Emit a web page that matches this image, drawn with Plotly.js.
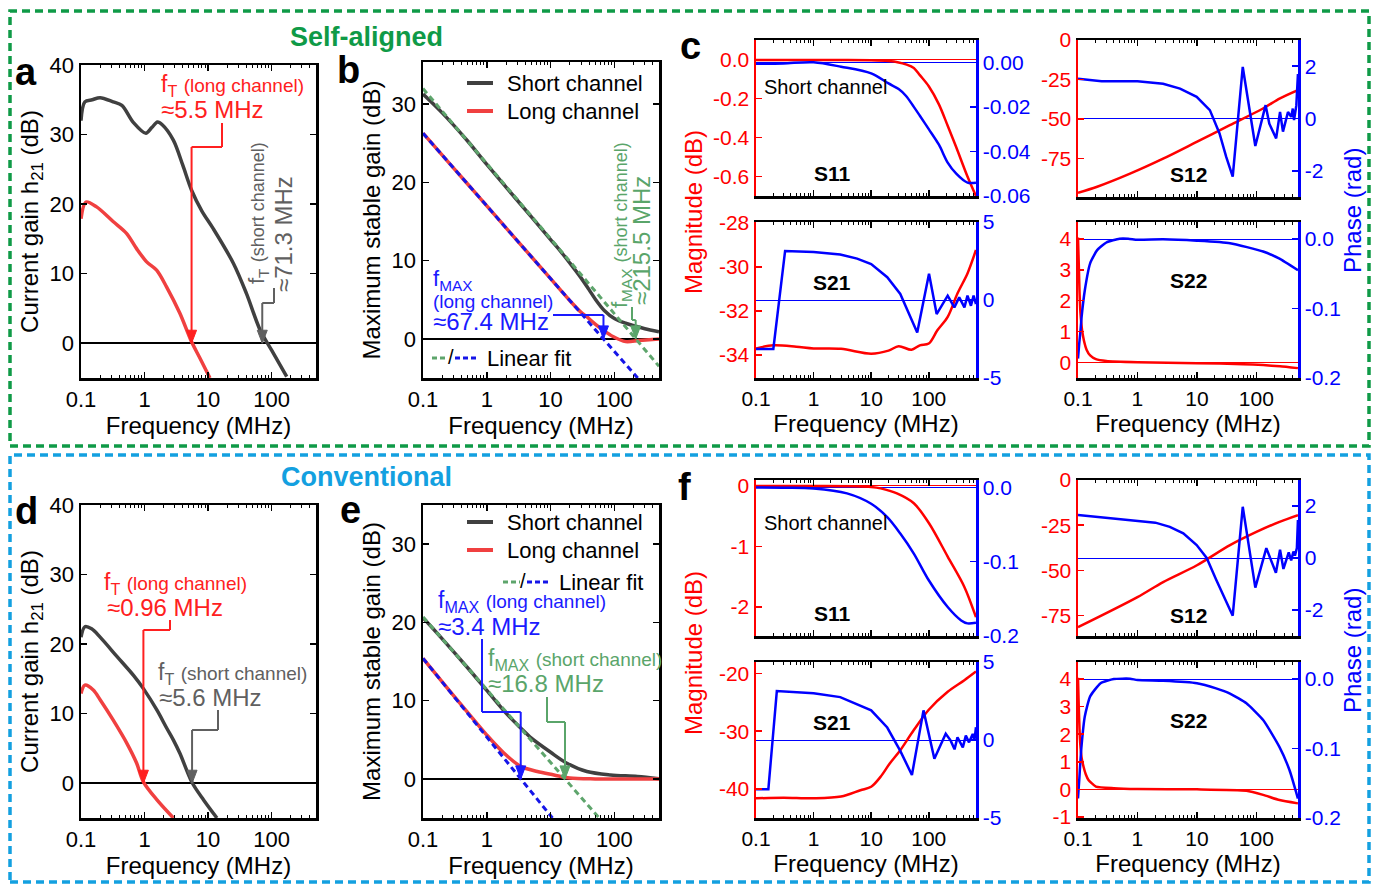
<!DOCTYPE html>
<html><head><meta charset="utf-8">
<script src="https://cdn.plot.ly/plotly-3.0.1.min.js"></script>
<style>html,body{margin:0;padding:0;background:#fff}#chart{width:1376px;height:884px}</style>
</head><body><div id="chart"></div>
<script>
// ================= DATA =================
const freqTickVals = [0.1, 1, 10, 100];
const freqTickText = ['0.1', '1', '10', '100'];
const freqMinorTicks = [0.2,0.3,0.4,0.5,0.6,0.7,0.8,0.9,2,3,4,5,6,7,8,9,20,30,40,50,60,70,80,90,200,300,400,500,600];

// Panel a: self-aligned current gain h21 (dB)
const aShortFreq = [0.1, 0.115, 0.15, 0.2, 0.32, 0.44, 0.66, 1.05, 1.3, 1.6, 1.9, 2.84, 4, 5.5, 8, 12, 25, 40, 66, 100, 173];
const aShortGain = [32, 34.7, 35.0, 35.3, 34.7, 34.2, 31.8, 30.2, 31.0, 31.8, 31.4, 29.2, 25.6, 22, 19, 16.5, 11.5, 7.2, 1.9, -1.0, -4.8];
const aLongFreq = [0.1, 0.12, 0.176, 0.32, 0.52, 0.75, 1.08, 1.55, 2.22, 3.6, 5.5, 7.5, 10.7];
const aLongGain = [17.9, 20.3, 19.6, 17.5, 15.8, 13.6, 11.7, 10.5, 8.1, 4.3, 0.2, -2.2, -5];
const aFtLong = 5.5, aFtShort = 71.3;

// Panel b: self-aligned maximum stable gain (dB)
const bShortFreq = [0.1, 0.2, 0.5, 1, 2, 5, 10, 15, 20, 30, 40, 50, 70, 100, 150, 220, 300, 500];
const bShortMSG = [31.3, 28.9, 25.3, 22.3, 19.4, 15.6, 12.7, 11.0, 9.7, 7.8, 6.3, 5.1, 3.6, 2.6, 2.0, 1.6, 1.3, 0.9];
const bLongFreq = [0.1, 0.2, 0.5, 1, 2, 5, 10, 20, 30, 36, 50, 66, 95, 150, 245, 500];
const bLongMSG = [26.3, 23.5, 19.8, 17.0, 14.2, 10.5, 7.7, 4.9, 3.4, 2.9, 1.9, 1.15, 0.3, -0.35, -0.2, 0.0];
const bFitShortFreq = [0.1, 500];
const bFitShortMSG = [32, -3.5];
const bFitLongFreq = [0.1, 232];
const bFitLongMSG = [26.3, -5];
const bFmaxLong = 67.4, bFmaxShort = 215.5;

// Panel c: self-aligned S-parameters (short channel)
const cS11Freq = [0.1, 0.3, 1, 3, 10, 20, 30, 40, 55, 70, 100, 150, 213, 300, 470, 660];
const cS11Mag = [-0.003, -0.003, -0.003, -0.003, -0.004, -0.008, -0.015, -0.025, -0.043, -0.08, -0.137, -0.23, -0.34, -0.45, -0.6, -0.70];
const cS11Phase = [-0.0007, -0.0005, 0.0, -0.002, -0.005, -0.0095, -0.012, -0.015, -0.02, -0.024, -0.030, -0.037, -0.045, -0.050, -0.054, -0.054];
const cS21Freq = [0.1, 0.2, 0.5, 1, 3, 10, 20, 30, 50, 70, 100, 141, 213, 316, 470, 660];
const cS21Mag = [-33.7, -33.56, -33.62, -33.7, -33.72, -33.94, -33.8, -33.6, -33.76, -33.56, -33.48, -32.88, -32.27, -31.2, -30.3, -29.24];
const cS21PhaseFreq = [0.1, 0.2, 0.32, 1.0, 2.9, 5.7, 10, 19, 32, 63, 101, 137, 213, 278, 338, 416, 470, 540, 600, 660];
const cS21Phase = [-3.14, -3.14, 3.14, 3.07, 2.92, 2.65, 2.3, 1.46, 0.39, -2.09, 1.68, -0.9, 0.28, -0.47, 0.17, -0.47, 0.28, -0.37, 0.28, -0.26];
const cS12Freq = [0.1, 0.21, 0.75, 2.7, 9.9, 35.8, 129, 250, 500];
const cS12Mag = [-96.8, -93, -84.7, -75.2, -64.6, -54, -43.4, -37, -31.8];
const cS12PhaseFreq = [0.1, 0.2, 0.25, 1, 2.7, 5.2, 9.9, 16.5, 24, 31, 40, 59, 96, 143, 165, 215, 250, 280, 340, 385, 410, 430, 470, 500];
const cS12Phase = [1.52, 1.45, 1.42, 1.42, 1.33, 1.14, 0.83, 0.32, -0.57, -1.46, -2.22, 1.97, -1.05, 0.51, -0.2, -0.76, 0.25, -0.5, 0.25, 0.06, 0.38, -0.06, 0.5, 1.7];
const cS22Freq = [0.1, 0.103, 0.106, 0.11, 0.117, 0.126, 0.14, 0.16, 0.2, 0.3, 1, 10, 60, 130, 250, 500];
const cS22Mag = [4.05, 3.2, 2.3, 1.6, 1.05, 0.7, 0.4, 0.22, 0.1, 0.04, 0.0, -0.03, -0.06, -0.09, -0.13, -0.19];
const cS22PhaseFreq = [0.1, 0.105, 0.109, 0.115, 0.13, 0.16, 0.21, 0.3, 0.5, 0.7, 1, 2.7, 10, 36, 130, 240, 500];
const cS22Phase = [-0.172, -0.15, -0.136, -0.112, -0.074, -0.035, -0.016, -0.005, 0.0005, 0.0005, -0.001, -0.0005, -0.0025, -0.006, -0.018, -0.028, -0.045];

// Panel d: conventional current gain h21 (dB)
const dShortFreq = [0.1, 0.115, 0.147, 0.2, 0.37, 0.67, 0.96, 1.57, 2.24, 2.85, 3.6, 5.6, 8.5, 13.8];
const dShortGain = [21, 22.5, 22.2, 21, 18.2, 15.5, 13.6, 10.5, 7.9, 6.2, 4.3, 0.1, -2.4, -5];
const dLongFreq = [0.1, 0.115, 0.156, 0.2, 0.32, 0.53, 0.75, 0.96, 1.57, 2.85];
const dLongGain = [12.9, 14.1, 13.4, 12.0, 9.1, 5.7, 2.9, 0.2, -2.4, -5];
const dFtLong = 0.96, dFtShort = 5.6;

// Panel e: conventional maximum stable gain (dB)
const eShortFreq = [0.1, 0.2, 0.5, 1, 2, 3.4, 5, 10, 18, 37, 87, 230, 500];
const eShortMSG = [20.6, 17.9, 14.2, 11.3, 8.4, 6.5, 5.2, 3.4, 2.0, 0.94, 0.5, 0.3, 0.0];
const eLongFreq = [0.1, 0.2, 0.5, 1, 1.85, 3.4, 6.2, 11.3, 20, 50, 100, 500];
const eLongMSG = [15.4, 12.4, 8.5, 5.6, 3.3, 1.6, 0.94, 0.5, 0.1, 0.0, 0.0, 0.0];
const eFitShortFreq = [0.1, 57.8];
const eFitShortMSG = [20.7, -5];
const eFitLongFreq = [0.1, 10.7];
const eFitLongMSG = [15.4, -5];
const eFmaxLong = 3.4, eFmaxShort = 16.8;

// Panel f: conventional S-parameters (short channel)
const fS11Freq = [0.1, 1, 5, 10, 14.6, 28, 55, 101, 213, 415, 660];
const fS11Mag = [-0.005, -0.005, -0.008, -0.02, -0.044, -0.127, -0.29, -0.62, -1.17, -1.67, -2.17];
const fS11PhaseFreq = [0.1, 0.3, 1, 3.8, 10, 19, 32, 55, 100, 213, 365, 470, 660];
const fS11Phase = [0.0, -0.0005, -0.0014, -0.008, -0.022, -0.04, -0.062, -0.089, -0.125, -0.161, -0.179, -0.183, -0.182];
const fS21Freq = [0.1, 0.3, 1, 3, 6.5, 10, 14.5, 21, 32, 55, 100, 213, 415, 660];
const fS21Mag = [-41.6, -41.5, -41.6, -41.3, -40.2, -39.6, -37.9, -35.6, -33.3, -29.8, -26.3, -23.2, -21.2, -19.7];
const fS21PhaseFreq = [0.1, 0.164, 0.23, 1, 2.9, 5.7, 10, 19, 32, 51, 81, 125, 197, 240, 280, 315, 390, 440, 500, 580, 620, 660];
const fS21Phase = [-3.15, -3.15, 3.14, 3.0, 2.75, 2.3, 1.9, 0.8, -0.7, -2.24, 1.9, -1.2, 0.4, -0.04, -0.6, 0.17, -0.47, 0.28, -0.15, 0.39, -0.04, 0.82];
const fS12Freq = [0.1, 1, 2.7, 10, 36, 100, 245, 500];
const fS12Mag = [-81.3, -64.7, -56.4, -47.1, -36, -28.7, -23.1, -19.4];
const fS12PhaseFreq = [0.1, 0.4, 1, 2, 3.5, 5.9, 9.9, 14.6, 21, 31, 40, 59, 96, 147, 172, 213, 250, 285, 350, 385, 420, 445, 480, 500];
const fS12Phase = [1.65, 1.52, 1.43, 1.36, 1.2, 0.95, 0.5, 0.0, -0.83, -1.71, -2.22, 1.97, -1.14, 0.38, -0.04, -0.57, 0.32, -0.42, 0.22, -0.09, 0.25, 0.09, 0.38, 1.46];
const fS22Freq = [0.1, 0.103, 0.106, 0.109, 0.115, 0.124, 0.135, 0.15, 0.2, 0.4, 1, 10, 68, 130, 245, 500];
const fS22Mag = [4.05, 3.0, 2.2, 1.67, 1.15, 0.82, 0.55, 0.34, 0.1, 0.04, 0.01, 0.0, -0.05, -0.2, -0.39, -0.51];
const fS22PhaseFreq = [0.1, 0.105, 0.109, 0.115, 0.13, 0.16, 0.24, 0.4, 0.75, 1, 2.7, 10, 21, 36, 68, 130, 245, 360, 500];
const fS22Phase = [-0.172, -0.145, -0.122, -0.095, -0.054, -0.025, -0.006, 0.0, 0.0005, -0.0015, -0.0025, -0.006, -0.0135, -0.021, -0.035, -0.059, -0.098, -0.131, -0.172];

// ================= STYLE / GEOMETRY =================
const W = 1376, H = 884;
const FONT = 'Liberation Sans, Arial, Helvetica, sans-serif';
const DARK = '#404040', LRED = '#f04040', GFIT = '#5ea56c', BFIT = '#1515e8';
const ARED = '#ff2020', AGREY = '#606060', ABLUE = '#1a1aff', AGREEN = '#5aa56a';
const SRED = '#ff0000', SBLUE = '#0000ff';
const GREENF = '#0f9a47', BLUEF = '#13a0e0';

const P = {
  a: {x0: 81, x1: 316, y0: 65, y1: 378, xr: [-1, 2.699], yr: [-5, 40]},
  b: {x0: 423, x1: 659, y0: 62, y1: 378, xr: [-1, 2.699], yr: [-5, 35.4]},
  d: {x0: 81, x1: 316, y0: 505, y1: 818, xr: [-1, 2.699], yr: [-5, 40]},
  e: {x0: 423, x1: 659, y0: 505, y1: 818, xr: [-1, 2.699], yr: [-5, 35]},
  c11: {x0: 756, x1: 976, y0: 40, y1: 196, xr: [-1, 2.82]},
  c21: {x0: 756, x1: 976, y0: 222, y1: 378, xr: [-1, 2.82]},
  c12: {x0: 1078, x1: 1298, y0: 40, y1: 197, xr: [-1, 2.7]},
  c22: {x0: 1078, x1: 1298, y0: 222, y1: 378, xr: [-1, 2.7]},
  f11: {x0: 756, x1: 976, y0: 480, y1: 636, xr: [-1, 2.82]},
  f21: {x0: 756, x1: 976, y0: 662, y1: 818, xr: [-1, 2.82]},
  f12: {x0: 1078, x1: 1298, y0: 480, y1: 636, xr: [-1, 2.7]},
  f22: {x0: 1078, x1: 1298, y0: 662, y1: 818, xr: [-1, 2.7]}
};
const xd = p => [p.x0 / W, p.x1 / W];
const yd = p => [1 - p.y1 / H, 1 - p.y0 / H];
const X = (p, px) => Math.pow(10, p.xr[0] + (px - p.x0) / (p.x1 - p.x0) * (p.xr[1] - p.xr[0]));
const Y = (p, py) => p.yr[1] - (py - p.y0) / (p.y1 - p.y0) * (p.yr[1] - p.yr[0]);

function freqAxis(p, anchor, showLabels, fs, withTitle) {
  const ax = {
    domain: xd(p), anchor: anchor, type: 'log', range: p.xr,
    tickmode: 'array', tickvals: freqTickVals, ticktext: freqTickText,
    showticklabels: showLabels, ticks: 'inside', ticklen: 6, tickwidth: 1.5, tickcolor: '#000',
    showline: true, linecolor: '#000', linewidth: 2.5, mirror: 'ticks',
    showgrid: false, zeroline: false,
    tickfont: {family: FONT, size: fs, color: '#000'},
    minor: {tickmode: 'array', tickvals: freqMinorTicks, ticks: 'inside', ticklen: 3, tickwidth: 1, tickcolor: '#000', showgrid: false}
  };
  if (withTitle) ax.title = {text: 'Frequency (MHz)', font: {family: FONT, size: 24, color: '#000'}, standoff: 4};
  return ax;
}
function gainAxis(p, anchor, tv, title) {
  return {
    domain: yd(p), anchor: anchor, range: p.yr, tickmode: 'array', tickvals: tv,
    ticks: 'inside', ticklen: 6, tickwidth: 1.5, tickcolor: '#000',
    showline: true, linecolor: '#000', linewidth: 2.5, mirror: 'ticks',
    showgrid: false, zeroline: true, zerolinecolor: '#000', zerolinewidth: 2,
    tickfont: {family: FONT, size: 22, color: '#000'},
    title: {text: title, font: {family: FONT, size: 24, color: '#000'}, standoff: 4}
  };
}
function sAxis(p, anchor, side, range, tv, tt, color, zl, overlay) {
  const ax = {
    domain: yd(p), anchor: anchor, side: side, range: range,
    tickmode: 'array', tickvals: tv, ticktext: tt,
    ticks: 'inside', ticklen: 6, tickwidth: 1.5, tickcolor: color,
    showline: true, linecolor: color, linewidth: 2.5,
    showgrid: false, zeroline: zl, zerolinecolor: color, zerolinewidth: 1,
    tickfont: {family: FONT, size: 21, color: color}
  };
  if (overlay) ax.overlaying = overlay;
  return ax;
}

// ================= TRACES =================
function tr(x, y, xa, ya, color, width, opt) {
  opt = opt || {};
  const line = {color: color, width: width, dash: opt.dash || 'solid'};
  if (opt.smooth) { line.shape = 'spline'; line.smoothing = opt.smooth; }
  return {x: x, y: y, xaxis: xa, yaxis: ya, type: 'scatter', mode: 'lines',
    line: line, showlegend: false, hoverinfo: 'skip'};
}
const SM = {smooth: 0.9};
const SM5 = {smooth: 0.5};
const DASH = {dash: '6px,4px'};
const data = [
  tr(aShortFreq, aShortGain, 'x', 'y', DARK, 3.5, SM),
  tr(aLongFreq, aLongGain, 'x', 'y', LRED, 3.5, SM),
  tr(bShortFreq, bShortMSG, 'x2', 'y2', DARK, 3.5, SM),
  tr(bLongFreq, bLongMSG, 'x2', 'y2', LRED, 3.5, SM),
  tr(bFitShortFreq, bFitShortMSG, 'x2', 'y2', GFIT, 3, DASH),
  tr(bFitLongFreq, bFitLongMSG, 'x2', 'y2', BFIT, 3, DASH),
  tr(cS11Freq, cS11Mag, 'x3', 'y3', SRED, 2.5, SM),
  tr(cS11Freq, cS11Phase, 'x3', 'y4', SBLUE, 2.5, SM),
  tr(cS21Freq, cS21Mag, 'x4', 'y5', SRED, 2.5, SM),
  tr(cS21PhaseFreq, cS21Phase, 'x4', 'y6', SBLUE, 2.5),
  tr(cS12Freq, cS12Mag, 'x5', 'y7', SRED, 2.5, SM),
  tr(cS12PhaseFreq, cS12Phase, 'x5', 'y8', SBLUE, 2.5),
  tr(cS22Freq, cS22Mag, 'x6', 'y9', SRED, 2.5, SM5),
  tr(cS22PhaseFreq, cS22Phase, 'x6', 'y10', SBLUE, 2.5, SM5),
  tr(dShortFreq, dShortGain, 'x7', 'y11', DARK, 3.5, SM),
  tr(dLongFreq, dLongGain, 'x7', 'y11', LRED, 3.5, SM),
  tr(eShortFreq, eShortMSG, 'x8', 'y12', DARK, 3.5, SM),
  tr(eLongFreq, eLongMSG, 'x8', 'y12', LRED, 3.5, SM),
  tr(eFitShortFreq, eFitShortMSG, 'x8', 'y12', GFIT, 3, DASH),
  tr(eFitLongFreq, eFitLongMSG, 'x8', 'y12', BFIT, 3, DASH),
  tr(fS11Freq, fS11Mag, 'x9', 'y13', SRED, 2.5, SM),
  tr(fS11PhaseFreq, fS11Phase, 'x9', 'y14', SBLUE, 2.5, SM),
  tr(fS21Freq, fS21Mag, 'x10', 'y15', SRED, 2.5, SM),
  tr(fS21PhaseFreq, fS21Phase, 'x10', 'y16', SBLUE, 2.5),
  tr(fS12Freq, fS12Mag, 'x11', 'y17', SRED, 2.5, SM),
  tr(fS12PhaseFreq, fS12Phase, 'x11', 'y18', SBLUE, 2.5),
  tr(fS22Freq, fS22Mag, 'x12', 'y19', SRED, 2.5, SM5),
  tr(fS22PhaseFreq, fS22Phase, 'x12', 'y20', SBLUE, 2.5, SM5)
];

// ================= LAYOUT =================
const L = {
  width: W, height: H, margin: {l: 0, r: 0, t: 0, b: 0},
  paper_bgcolor: '#fff', plot_bgcolor: 'rgba(0,0,0,0)', showlegend: false,
  font: {family: FONT, color: '#000'},
  xaxis: freqAxis(P.a, 'y', true, 22, true),
  yaxis: gainAxis(P.a, 'x', [0, 10, 20, 30, 40], 'Current gain h<sub>21</sub> (dB)'),
  xaxis2: freqAxis(P.b, 'y2', true, 22, true),
  yaxis2: gainAxis(P.b, 'x2', [0, 10, 20, 30], 'Maximum stable gain (dB)'),
  xaxis3: freqAxis(P.c11, 'y3', false, 21, false),
  yaxis3: sAxis(P.c11, 'x3', 'left', [-0.7, 0.1], [-0.6, -0.4, -0.2, 0], ['-0.6', '-0.4', '-0.2', '0.0'], SRED, true),
  yaxis4: sAxis(P.c11, 'x3', 'right', [-0.06, 0.01], [-0.06, -0.04, -0.02, 0], ['-0.06', '-0.04', '-0.02', '0.00'], SBLUE, true, 'y3'),
  xaxis4: freqAxis(P.c21, 'y5', true, 21, true),
  yaxis5: sAxis(P.c21, 'x4', 'left', [-35.04, -27.97], [-34, -32, -30, -28], ['-34', '-32', '-30', '-28'], SRED, false),
  yaxis6: sAxis(P.c21, 'x4', 'right', [-5, 5], [-5, 0, 5], ['-5', '0', '5'], SBLUE, true, 'y5'),
  xaxis5: freqAxis(P.c12, 'y7', false, 21, false),
  yaxis7: sAxis(P.c12, 'x5', 'left', [-99.5, 0], [-75, -50, -25, 0], ['-75', '-50', '-25', '0'], SRED, false),
  yaxis8: sAxis(P.c12, 'x5', 'right', [-3, 3], [-2, 0, 2], ['-2', '0', '2'], SBLUE, true, 'y7'),
  xaxis6: freqAxis(P.c22, 'y9', true, 21, true),
  yaxis9: sAxis(P.c22, 'x6', 'left', [-0.51, 4.55], [0, 1, 2, 3, 4], ['0', '1', '2', '3', '4'], SRED, true),
  yaxis10: sAxis(P.c22, 'x6', 'right', [-0.2, 0.0245], [-0.2, -0.1, 0], ['-0.2', '-0.1', '0.0'], SBLUE, true, 'y9'),
  xaxis7: freqAxis(P.d, 'y11', true, 22, true),
  yaxis11: gainAxis(P.d, 'x7', [0, 10, 20, 30, 40], 'Current gain h<sub>21</sub> (dB)'),
  xaxis8: freqAxis(P.e, 'y12', true, 22, true),
  yaxis12: gainAxis(P.e, 'x8', [0, 10, 20, 30], 'Maximum stable gain (dB)'),
  xaxis9: freqAxis(P.f11, 'y13', false, 21, false),
  yaxis13: sAxis(P.f11, 'x9', 'left', [-2.48, 0.094], [-2, -1, 0], ['-2', '-1', '0'], SRED, true),
  yaxis14: sAxis(P.f11, 'x9', 'right', [-0.2, 0.01], [-0.2, -0.1, 0], ['-0.2', '-0.1', '0.0'], SBLUE, true, 'y13'),
  xaxis10: freqAxis(P.f21, 'y15', true, 21, true),
  yaxis15: sAxis(P.f21, 'x10', 'left', [-45, -18.05], [-40, -30, -20], ['-40', '-30', '-20'], SRED, false),
  yaxis16: sAxis(P.f21, 'x10', 'right', [-5, 5], [-5, 0, 5], ['-5', '0', '5'], SBLUE, true, 'y15'),
  xaxis11: freqAxis(P.f12, 'y17', false, 21, false),
  yaxis17: sAxis(P.f12, 'x11', 'left', [-86.2, 0], [-75, -50, -25, 0], ['-75', '-50', '-25', '0'], SRED, false),
  yaxis18: sAxis(P.f12, 'x11', 'right', [-3, 3], [-2, 0, 2], ['-2', '0', '2'], SBLUE, true, 'y17'),
  xaxis12: freqAxis(P.f22, 'y19', true, 21, true),
  yaxis19: sAxis(P.f22, 'x12', 'left', [-1.04, 4.62], [-1, 0, 1, 2, 3, 4], ['-1', '0', '1', '2', '3', '4'], SRED, true),
  yaxis20: sAxis(P.f22, 'x12', 'right', [-0.2, 0.0245], [-0.2, -0.1, 0], ['-0.2', '-0.1', '0.0'], SBLUE, true, 'y19')
};

// ----- annotations & shapes -----
const ann = [];
const shp = [];
function txt(text, px, py, size, color, o) {
  o = o || {};
  ann.push(Object.assign({xref: 'paper', yref: 'paper', x: px / W, y: 1 - py / H, text: text, showarrow: false,
    font: {family: FONT, size: size, color: color}, xanchor: 'center', yanchor: 'middle'}, o));
}
function pline(x0, y0, x1, y1, color, width, dash) {
  shp.push({type: 'line', xref: 'paper', yref: 'paper', x0: x0 / W, y0: 1 - y0 / H, x1: x1 / W, y1: 1 - y1 / H,
    line: {color: color, width: width, dash: dash || 'solid'}});
}
// elbow: bracket corners in pixels, then horizontal to the frequency, then an arrow down to 0 dB
function elbow(p, xa, ya, pts, freq, color) {
  let prev = null;
  pts.forEach(pt => {
    if (prev) shp.push({type: 'line', xref: xa, yref: ya, x0: X(p, prev[0]), y0: Y(p, prev[1]), x1: X(p, pt[0]), y1: Y(p, pt[1]), line: {color: color, width: 2}});
    prev = pt;
  });
  const yl = Y(p, prev[1]);
  shp.push({type: 'line', xref: xa, yref: ya, x0: X(p, prev[0]), y0: yl, x1: freq, y1: yl, line: {color: color, width: 2}});
  shp.push({type: 'line', xref: xa, yref: ya, x0: freq, y0: yl, x1: freq, y1: 0, line: {color: color, width: 2}});
  shp.push({type: 'path', xref: xa, yref: ya, xsizemode: 'pixel', ysizemode: 'pixel', xanchor: freq, yanchor: 0,
    path: 'M -5 13 L 5 13 L 0 0 Z', fillcolor: color, line: {color: color, width: 1}});
}

// frames
shp.push({type: 'rect', xref: 'paper', yref: 'paper', x0: 10 / W, x1: 1369 / W, y0: 1 - 446 / H, y1: 1 - 11 / H, line: {color: GREENF, width: 3.5, dash: '8px,5px'}});
shp.push({type: 'rect', xref: 'paper', yref: 'paper', x0: 10 / W, x1: 1369 / W, y0: 1 - 882 / H, y1: 1 - 455 / H, line: {color: BLUEF, width: 3.5, dash: '8px,5px'}});
txt('<b>Self-aligned</b>', 367, 37, 27, GREENF);
txt('<b>Conventional</b>', 367, 477, 27, BLUEF);

// panel letters
txt('<b>a</b>', 26, 72, 38, '#000');
txt('<b>b</b>', 348, 70, 38, '#000');
txt('<b>c</b>', 690, 46, 38, '#000');
txt('<b>d</b>', 26, 511, 38, '#000');
txt('<b>e</b>', 350, 510, 38, '#000');
txt('<b>f</b>', 684, 487, 38, '#000');

// panel a annotations
txt('f<sub>T</sub> <span style="font-size:19px">(long channel)</span>', 232, 86, 23, ARED);
txt('≈5.5 MHz', 212, 109, 24, ARED);
elbow(P.a, 'x', 'y', [[222, 123], [222, 147]], aFtLong, ARED);
txt('f<sub>T</sub> <span style="font-size:18px">(short channel)</span>', 258, 213, 22, AGREY, {textangle: -90});
txt('≈71.3 MHz', 284, 234, 24, AGREY, {textangle: -90});
elbow(P.a, 'x', 'y', [[274, 288], [274, 303]], aFtShort, AGREY);

// panel b legend & annotations
pline(467, 83, 493, 83, DARK, 4);
pline(467, 111, 493, 111, LRED, 4);
txt('Short channel', 505, 83, 22, '#000', {xanchor: 'left'});
txt('Long channel', 505, 111, 22, '#000', {xanchor: 'left'});
pline(432, 358, 448, 358, GFIT, 3, '5px,3px');
txt('/', 451, 357, 20, '#000');
pline(455, 358, 479, 358, BFIT, 3, '5px,3px');
txt('Linear fit', 485, 358, 22, '#000', {xanchor: 'left'});
txt('f<sub>MAX</sub>', 431, 280, 22, ABLUE, {xanchor: 'left'});
txt('(long channel)', 431, 301, 19, ABLUE, {xanchor: 'left'});
txt('≈67.4 MHz', 431, 321, 24, ABLUE, {xanchor: 'left'});
elbow(P.b, 'x2', 'y2', [[553, 315]], bFmaxLong, ABLUE);
txt('f<sub>MAX</sub> <span style="font-size:18px">(short channel)</span>', 621, 225, 22, AGREEN, {textangle: -90});
txt('≈215.5 MHz', 642, 241, 24, AGREEN, {textangle: -90});
elbow(P.b, 'x2', 'y2', [[632, 307], [632, 320]], bFmaxShort, AGREEN);

// panel c annotations
txt('Short channel', 826, 87, 20, '#000');
txt('<b>S11</b>', 832, 174, 21, '#000');
txt('<b>S21</b>', 832, 282, 21, '#000');
txt('<b>S12</b>', 1188, 175, 21, '#000');
txt('<b>S22</b>', 1188, 280, 21, '#000');
txt('Magnitude (dB)', 693, 212, 24, SRED, {textangle: -90});
txt('Phase (rad)', 1352, 211, 24, SBLUE, {textangle: -90});

// panel d annotations
txt('f<sub>T</sub> <span style="font-size:19px">(long channel)</span>', 175, 583, 23, ARED);
txt('≈0.96 MHz', 165, 607, 24, ARED);
elbow(P.d, 'x7', 'y11', [[170, 620], [170, 630]], dFtLong, ARED);
txt('f<sub>T</sub> <span style="font-size:19px">(short channel)</span>', 232, 673, 23, AGREY);
txt('≈5.6 MHz', 210, 697, 24, AGREY);
elbow(P.d, 'x7', 'y11', [[218, 710], [218, 730]], dFtShort, AGREY);

// panel e legend & annotations
pline(467, 522, 493, 522, DARK, 4);
pline(467, 550, 493, 550, LRED, 4);
txt('Short channel', 505, 522, 22, '#000', {xanchor: 'left'});
txt('Long channel', 505, 550, 22, '#000', {xanchor: 'left'});
pline(503, 582, 520, 582, GFIT, 3, '5px,3px');
txt('/', 523, 581, 20, '#000');
pline(527, 582, 551, 582, BFIT, 3, '5px,3px');
txt('Linear fit', 557, 582, 22, '#000', {xanchor: 'left'});
txt('f<sub>MAX</sub> <span style="font-size:19px">(long channel)</span>', 436, 601, 23, ABLUE, {xanchor: 'left'});
txt('≈3.4 MHz', 436, 626, 24, ABLUE, {xanchor: 'left'});
elbow(P.e, 'x8', 'y12', [[482, 639], [482, 712]], eFmaxLong, ABLUE);
txt('f<sub>MAX</sub> <span style="font-size:19px">(short channel)</span>', 486, 659, 23, AGREEN, {xanchor: 'left'});
txt('≈16.8 MHz', 486, 683, 24, AGREEN, {xanchor: 'left'});
elbow(P.e, 'x8', 'y12', [[547, 697], [547, 722]], eFmaxShort, AGREEN);

// panel f annotations
txt('Short channel', 826, 523, 20, '#000');
txt('<b>S11</b>', 832, 613, 21, '#000');
txt('<b>S21</b>', 832, 722, 21, '#000');
txt('<b>S12</b>', 1188, 615, 21, '#000');
txt('<b>S22</b>', 1188, 720, 21, '#000');
txt('Magnitude (dB)', 693, 653, 24, SRED, {textangle: -90});
txt('Phase (rad)', 1352, 651, 24, SBLUE, {textangle: -90});

L.annotations = ann;
L.shapes = shp;

Plotly.newPlot('chart', data, L, {displayModeBar: false, staticPlot: true});
</script>
</body></html>
